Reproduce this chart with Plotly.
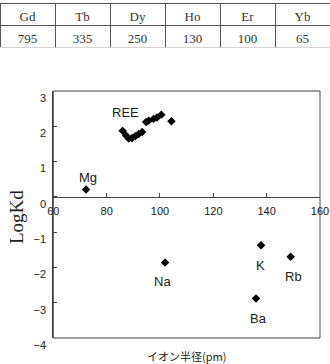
import plotly.graph_objects as go

# ---- data ----
table_elements = ["Gd", "Tb", "Dy", "Ho", "Er", "Yb"]
table_kd = [795, 335, 250, 130, 100, 65]

ree_radius = [86.0, 87.3, 88.3, 89.5, 90.7, 92.0, 93.3, 94.8, 95.8, 97.6, 98.9, 100.5, 104.3]
ree_logkd = [1.87, 1.74, 1.65, 1.67, 1.72, 1.78, 1.84, 2.12, 2.16, 2.21, 2.25, 2.33, 2.14]

other_names = ["Mg", "Na", "K", "Rb", "Ba"]
other_radius = [72.3, 101.9, 137.9, 149.0, 136.0]
other_logkd = [0.21, -1.86, -1.37, -1.70, -2.88]

x_ticks = [60, 80, 100, 120, 140, 160]
y_ticks = [-4, -3, -2, -1, 0, 1, 2, 3]

# ---- layout geometry ----
W, H = 330, 364
mb = 26
plot_h = H - mb
y_dom_top = (plot_h - 91) / plot_h
y_range = [-4, 3]
zero_pos = y_dom_top * (0 - y_range[0]) / (y_range[1] - y_range[0])

label_shift = {"Mg": (2, 12), "Na": (-3, -19), "K": (-1, -20), "Rb": (3, -20), "Ba": (3, -20)}

fig = go.Figure()

fig.add_trace(go.Table(
    domain=dict(x=[0, 1], y=[0.86, (plot_h - 3.3) / plot_h]),
    columnwidth=[1] * len(table_elements),
    header=dict(values=table_elements, align="center", height=22,
                fill_color="white", line=dict(color="#555", width=1),
                font=dict(family="Liberation Serif", size=13, color="#333")),
    cells=dict(values=[[v] for v in table_kd], align="center", height=22,
               fill_color="white", line=dict(color="#555", width=1),
               font=dict(family="Liberation Serif", size=13, color="#333")),
))

fig.add_trace(go.Scatter(x=ree_radius, y=ree_logkd, mode="markers",
                         marker=dict(symbol="diamond", size=6.5, color="black"),
                         hoverinfo="skip", showlegend=False))
fig.add_trace(go.Scatter(x=other_radius, y=other_logkd, mode="markers",
                         marker=dict(symbol="diamond", size=6.5, color="black"),
                         hoverinfo="skip", showlegend=False))

lab_font = dict(family="Liberation Sans", size=13, color="#222")
for n, xv, yv in zip(other_names, other_radius, other_logkd):
    dx, dy = label_shift[n]
    fig.add_annotation(x=xv, y=yv, text=n, showarrow=False, xshift=dx, yshift=dy,
                       font=lab_font)
fig.add_annotation(x=ree_radius[0], y=max(ree_logkd), text="REE", showarrow=False,
                   xshift=3, yshift=2, font=lab_font)

fig.add_annotation(xref="x domain", x=0.5, yref="paper", y=(plot_h - 356) / plot_h,
                   text="イオン半径(pm)", showarrow=False, yanchor="middle",
                   font=dict(family="Noto Sans CJK JP", size=11, color="#222"))
fig.add_annotation(xref="paper", x=16 / W, yref="paper", y=(plot_h - 217) / plot_h,
                   text="LogKd", textangle=-90, showarrow=False,
                   xanchor="center", yanchor="middle",
                   font=dict(family="Liberation Serif", size=19, color="#222"))

fig.add_shape(type="rect", xref="x domain", yref="y domain", x0=0, x1=1, y0=0, y1=1,
              line=dict(color="#444", width=1))

tick_font = dict(family="Liberation Sans", size=11, color="#222")
fig.update_layout(
    width=W, height=H, margin=dict(l=0, r=0, t=0, b=mb),
    paper_bgcolor="white", plot_bgcolor="white",
    template=None, showlegend=False,
    xaxis=dict(domain=[53.3 / W, 320 / W], range=[60, 160], tickvals=x_ticks,
               anchor="free", position=zero_pos, showline=True, linecolor="#444",
               linewidth=1, ticks="inside", ticklen=4, tickcolor="#444",
               showgrid=False, zeroline=False, tickfont=tick_font,
               ticklabelstandoff=4, automargin=False),
    yaxis=dict(domain=[0, y_dom_top], range=y_range, tickvals=y_ticks,
               showline=True, linecolor="#444", linewidth=1, ticks="inside",
               ticklen=4, tickcolor="#444", showgrid=False, zeroline=False,
               tickfont=tick_font, ticklabelshift=7, ticklabelstandoff=4,
               automargin=False),
)

fig.write_html("out.html")
